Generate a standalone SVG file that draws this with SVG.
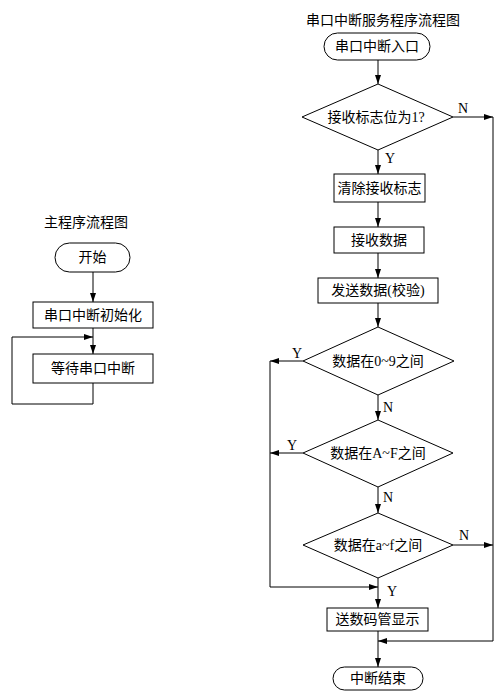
<svg xmlns="http://www.w3.org/2000/svg" width="504" height="698" viewBox="0 0 504 698">
<defs>
<marker id="ah" markerWidth="9" markerHeight="6" refX="9" refY="3" orient="auto" markerUnits="userSpaceOnUse">
<path d="M0,0 L9,3 L0,6 Z" fill="#000"/>
</marker>
<style>
.shape{fill:#fff;stroke:#000;stroke-width:1}
.line{fill:none;stroke:#000;stroke-width:1}
.arr{fill:none;stroke:#000;stroke-width:1;marker-end:url(#ah)}
text{font-family:"Liberation Serif","Noto Sans CJK SC",serif;font-size:14px;fill:#000;text-anchor:middle;dominant-baseline:central}
.lbl{font-size:14px}
</style>
</defs>
<rect width="504" height="698" fill="#fff"/>
<text x="86" y="222">主程序流程图</text>
<text x="383" y="20">串口中断服务程序流程图</text>
<g id="connectors">
<path class="arr" d="M93,272 V302"/>
<path class="arr" d="M93,328 V354"/>
<path class="arr" d="M93,383 V404 H12 V337 H93"/>
<path class="arr" d="M378,60 V84"/>
<path class="arr" d="M378,150 V174"/>
<path class="arr" d="M378,202 V227"/>
<path class="arr" d="M378,253 V278"/>
<path class="arr" d="M378,303 V327"/>
<path class="arr" d="M378,395 V420"/>
<path class="arr" d="M378,487 V513"/>
<path class="arr" d="M378,578 V608"/>
<path class="arr" d="M378,631 V667"/>
<path class="arr" d="M453,117 H493"/>
<path class="arr" d="M493,117 V641 H378"/>
<path class="arr" d="M453,545 H493"/>
<path class="arr" d="M303,361 H270"/>
<path class="arr" d="M270,361 V587 H378"/>
<path class="arr" d="M303,453 H270"/>
<text class="lbl" x="463" y="108">N</text>
<text class="lbl" x="390" y="158">Y</text>
<text class="lbl" x="297" y="353">Y</text>
<text class="lbl" x="388" y="407">N</text>
<text class="lbl" x="292" y="445">Y</text>
<text class="lbl" x="388" y="497">N</text>
<text class="lbl" x="464" y="535">N</text>
<text class="lbl" x="392" y="591">Y</text>
</g>
<g id="start"><rect class="shape" x="55" y="243" width="75" height="29" rx="14.5"/><text x="92.5" y="257.5">开始</text></g>
<g id="init"><rect class="shape" x="33" y="302" width="120" height="26"/><text x="93" y="315">串口中断初始化</text></g>
<g id="wait"><rect class="shape" x="33" y="354" width="120" height="29"/><text x="93" y="368.5">等待串口中断</text></g>
<g id="entry"><rect class="shape" x="324" y="33" width="106" height="27" rx="13.5"/><text x="377" y="46.5">串口中断入口</text></g>
<g id="d1"><polygon class="shape" points="378,84 453,117 378,150 302,117"/><text x="376" y="117">接收标志位为1?</text></g>
<g id="clear"><rect class="shape" x="334" y="174" width="91" height="28"/><text x="379.5" y="188">清除接收标志</text></g>
<g id="recv"><rect class="shape" x="334" y="227" width="90" height="26"/><text x="379" y="240">接收数据</text></g>
<g id="send"><rect class="shape" x="318" y="278" width="120" height="25"/><text x="378" y="290.5">发送数据(校验)</text></g>
<g id="d2"><polygon class="shape" points="378,327 454,361 378,395 303,361"/><text x="378" y="361">数据在0~9之间</text></g>
<g id="d3"><polygon class="shape" points="378,420 453,453 378,487 303,453"/><text x="378" y="453">数据在A~F之间</text></g>
<g id="d4"><polygon class="shape" points="378,513 453,545 378,578 303,545"/><text x="378" y="545">数据在a~f之间</text></g>
<g id="display"><rect class="shape" x="327" y="608" width="101" height="23"/><text x="377.5" y="619.5">送数码管显示</text></g>
<g id="end"><rect class="shape" x="333" y="667" width="90" height="23" rx="11.5"/><text x="378" y="678.5">中断结束</text></g>
</svg>
